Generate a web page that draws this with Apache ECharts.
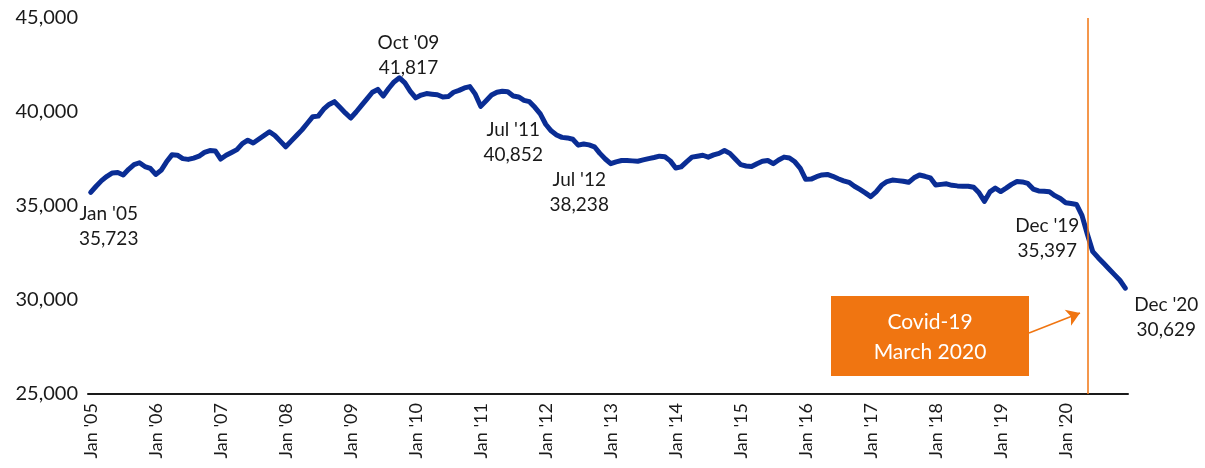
<!DOCTYPE html>
<html>
<head>
<meta charset="utf-8">
<script src="https://cdn.jsdelivr.net/npm/echarts@6/dist/echarts.min.js"></script>
<style>
  html, body { margin: 0; padding: 0; background: #fff; }
  #chart { width: 1205px; height: 468px; }
</style>
</head>
<body>
<div id="chart"></div>
<script>
// monthly categories Jan '05 .. Dec '20
const monthNames = ["Jan", "Feb", "Mar", "Apr", "May", "Jun", "Jul", "Aug", "Sep", "Oct", "Nov", "Dec"];
const years = ["05", "06", "07", "08", "09", "10", "11", "12", "13", "14", "15", "16", "17", "18", "19", "20"];

const values = [
  // 2005
  35723, 36050, 36350, 36580, 36760, 36780, 36650, 36950, 37200, 37300, 37100, 37000,
  // 2006
  36680, 36900, 37350, 37720, 37700, 37520, 37480, 37550, 37650, 37850, 37950, 37930,
  // 2007
  37500, 37700, 37850, 38000, 38320, 38500, 38350, 38550, 38750, 38950, 38750, 38450,
  // 2008
  38150, 38450, 38750, 39050, 39400, 39750, 39780, 40150, 40400, 40550, 40250, 39950,
  // 2009
  39680, 40000, 40350, 40700, 41050, 41200, 40850, 41250, 41600, 41817, 41550, 41100,
  // 2010
  40750, 40900, 40980, 40950, 40920, 40800, 40820, 41050, 41150, 41280, 41350, 40950,
  // 2011
  40300, 40600, 40900, 41050, 41100, 41080, 40852, 40800, 40620, 40550, 40250, 39900,
  // 2012
  39350, 39000, 38780, 38650, 38620, 38550, 38238, 38300, 38250, 38150, 37800, 37500,
  // 2013
  37250, 37350, 37420, 37420, 37400, 37380, 37450, 37520, 37580, 37650, 37620, 37400,
  // 2014
  37020, 37080, 37350, 37600, 37650, 37700, 37600, 37720, 37800, 37950, 37800, 37500,
  // 2015
  37200, 37130, 37100, 37250, 37380, 37420, 37250, 37450, 37600, 37550, 37350, 37000,
  // 2016
  36420, 36430, 36560, 36650, 36680, 36580, 36450, 36340, 36260, 36050, 35880, 35700,
  // 2017
  35500, 35750, 36100, 36300, 36380, 36350, 36320, 36260, 36500, 36650, 36580, 36500,
  // 2018
  36120, 36150, 36180, 36100, 36070, 36050, 36050, 36000, 35700, 35250, 35750, 35950,
  // 2019
  35770, 35950, 36150, 36300, 36280, 36200, 35900, 35800, 35790, 35760, 35550, 35397,
  // 2020
  35170, 35130, 35080, 34500, 33500, 32570, 32250, 31950, 31650, 31350, 31050, 30629
];

const yTicks = [25000, 30000, 35000, 40000, 45000];
const calloutMonths = ["Jan '05", "Oct '09", "Jul '11", "Jul '12", "Dec '19", "Dec '20"];
const covidMonth = "May '20";
const covidText = ["Covid-19", "March 2020"];

const months = [];
years.forEach((y) => monthNames.forEach((m) => months.push(m + " '" + y)));

const fmt = (v) => v.toLocaleString("en-US");
const font = "Lato, 'Open Sans', sans-serif";
const navy = "#0a2d94";
const orange = "#f07511";

// where each two-line callout sits relative to its point
const calloutOffsets = {
  "Jan '05": [18, 34],
  "Oct '09": [9, -22],
  "Jul '11": [0, 46],
  "Jul '12": [1, 47],
  "Dec '19": [-13, 40],
  "Dec '20": [41, 29]
};

const chart = echarts.init(document.getElementById("chart"));

const options = {
  animation: false,
  textStyle: { fontFamily: font },
  grid: { left: 88, right: 77, top: 18, bottom: 74, containLabel: false },
  xAxis: {
    type: "category",
    data: months,
    boundaryGap: true,
    axisLine: { lineStyle: { color: "#1a1a1a", width: 2 } },
    axisTick: { show: false },
    axisLabel: {
      interval: (i) => i % 12 === 0,
      rotate: 90,
      margin: 9,
      fontSize: 18,
      color: "#1a1a1a",
      fontFamily: font
    },
    splitLine: { show: false }
  },
  yAxis: {
    type: "value",
    min: yTicks[0],
    max: yTicks[yTicks.length - 1],
    interval: yTicks[1] - yTicks[0],
    axisLine: { show: false },
    axisTick: { show: false },
    splitLine: { show: false },
    axisLabel: {
      formatter: fmt,
      margin: 10,
      fontSize: 20,
      color: "#1a1a1a",
      fontFamily: font
    }
  },
  series: [
    {
      type: "line",
      data: values,
      showSymbol: false,
      symbol: "none",
      lineStyle: { color: navy, width: 5, join: "round", cap: "round" },
      markLine: {
        silent: true,
        symbol: ["none", "none"],
        label: { show: false },
        lineStyle: { color: orange, width: 1.5, type: "solid" },
        data: [
          { xAxis: covidMonth },
          [
            { x: 1029, y: 333, symbol: "none" },
            { x: 1080, y: 313, symbol: "arrow", symbolSize: 13 }
          ]
        ]
      },
      markPoint: {
        silent: true,
        symbol: "circle",
        symbolSize: 1,
        itemStyle: { color: "rgba(0,0,0,0)" },
        data: calloutMonths.map((m) => {
          const idx = months.indexOf(m);
          return {
            coord: [m, values[idx]],
            label: {
              show: true,
              position: "inside",
              offset: calloutOffsets[m],
              formatter: m + "\n" + fmt(values[idx]),
              align: "center",
              verticalAlign: "middle",
              lineHeight: 25,
              fontSize: 19,
              color: "#1a1a1a",
              fontFamily: font
            }
          };
        })
      }
    }
  ],
  graphic: [
    {
      type: "rect",
      shape: { x: 831, y: 296, width: 198, height: 80 },
      style: { fill: orange },
      silent: true
    },
    {
      type: "text",
      x: 930,
      y: 337,
      silent: true,
      style: {
        text: covidText.join("\n"),
        fill: "#fff",
        font: "21px " + font,
        lineHeight: 30,
        align: "center",
        verticalAlign: "middle"
      }
    }
  ]
};

chart.setOption(options);
</script>
</body>
</html>
